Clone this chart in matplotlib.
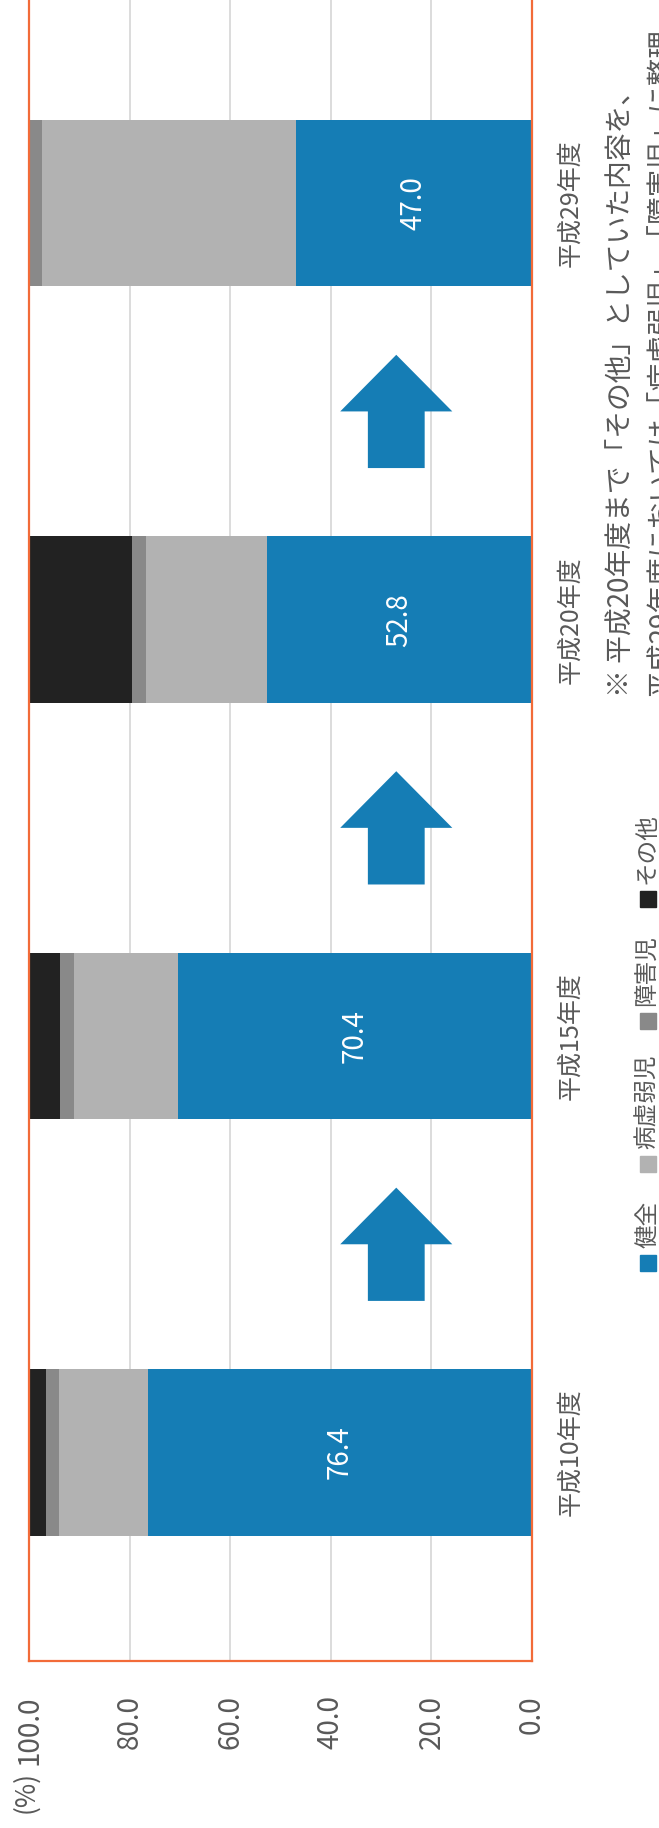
import matplotlib
matplotlib.use('Agg')
import matplotlib.pyplot as plt
from matplotlib.patches import FancyArrow, Rectangle

plt.rcParams['font.family'] = ['Noto Sans CJK JP', 'DejaVu Sans']

# data (chart is drawn rotated 90 degrees, as in the reference)
years = ['平成10年度', '平成15年度', '平成20年度', '平成29年度']
kenzen = [76.4, 70.4, 52.8, 47.0]    # 健全
byokyo = [17.6, 20.7, 24.0, 50.5]    # 病虚弱児
shogai = [2.7, 2.8, 2.8, 2.5]        # 障害児
sonota = [3.3, 6.1, 20.4, 0.0]       # その他
series_names = ['健全', '病虚弱児', '障害児', 'その他']
ticks = [0, 20, 40, 60, 80, 100]

colors = ['#157DB5', '#B2B2B2', '#898989', '#222222']
text_gray = '#595959'
frame_orange = '#F26B38'

W, H = 659, 1828
fig = plt.figure(figsize=(W / 100, H / 100), dpi=100)


def fx(px):
    return px / W


def fy(py):
    return 1 - py / H


# plot area: value 100 at x=29, 0 at x=532; bottom edge at y=1661, top just above the image
ax = fig.add_axes([fx(29.3), fy(1660.7), (532 - 29.3) / W, (1660.7 + 5) / H])

pos = list(range(len(years)))
left = [0.0] * len(years)
for vals, col in zip([kenzen, byokyo, shogai, sonota], colors):
    ax.barh(pos, vals, left=left, height=0.4, color=col, linewidth=0)
    left = [l + v for l, v in zip(left, vals)]

# value labels inside the blue segment
for p, v in zip(pos, kenzen):
    ax.text(v / 2, p, f'{v:.1f}', rotation=90, ha='center', va='center',
            color='white', fontsize=20)

# up arrows between the bars
for i in range(len(years) - 1):
    ax.add_patch(FancyArrow(27.0, i + 0.5 - 0.136, 0, 0.272, width=11.3,
                            head_width=22.3, head_length=0.136,
                            length_includes_head=True, color=colors[0],
                            linewidth=0))

ax.set_xlim(100, 0)
ax.set_ylim(-0.5, 3.5)
ax.set_xticks(ticks)
ax.set_xticklabels([f'{t:.1f}' for t in ticks], rotation=90, va='top',
                   ha='center', color=text_gray, fontsize=20)
ax.tick_params(axis='x', length=0, pad=25)
ax.yaxis.tick_right()
ax.set_yticks(pos)
ax.set_yticklabels(years, rotation=90, va='center', ha='left',
                   color=text_gray, fontsize=18)
ax.tick_params(axis='y', length=0, pad=18)
ax.grid(axis='x', color='#D9D9D9', linewidth=1.3)
ax.set_axisbelow(True)
for side in ['left', 'right', 'bottom', 'top']:
    ax.spines[side].set_color(frame_orange)
    ax.spines[side].set_linewidth(1.6)

# unit label
fig.text(fx(26), fy(1771), '(%)', rotation=90, ha='center', va='top',
         color=text_gray, fontsize=19)

# legend, drawn by hand because it is rotated
leg_y = [1263, 1164, 1021, 899]
for name, col, y in zip(series_names, colors, leg_y):
    fig.patches.append(Rectangle((fx(639.5), fy(y + 8)), 16 / W, 16 / H,
                                 transform=fig.transFigure, color=col))
    fig.text(fx(647.5), fy(y - 15), name, rotation=90, ha='center',
             va='bottom', color=text_gray, fontsize=17)

# note (cut by the image edge in the reference)
fig.text(fx(622), fy(697), '※ 平成20年度まで「その他」としていた内容を、',
         rotation=90, ha='center', va='bottom', color=text_gray, fontsize=20)
fig.text(fx(662), fy(697), '平成29年度においては「病虚弱児」「障害児」に整理',
         rotation=90, ha='center', va='bottom', color=text_gray, fontsize=20)

fig.savefig('out.png', dpi=100)
